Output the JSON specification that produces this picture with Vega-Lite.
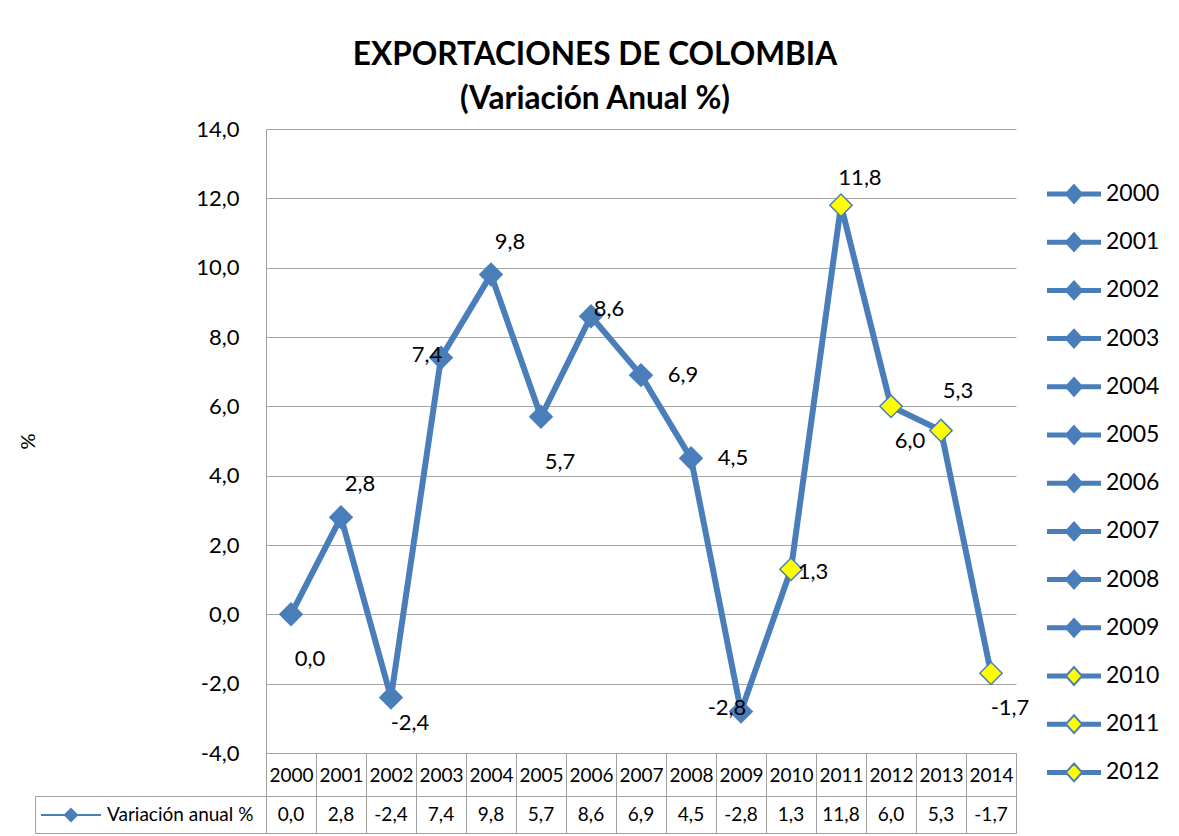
{
  "$schema": "https://vega.github.io/schema/vega-lite/v6.json",
  "background": "white",
  "autosize": {"type": "pad"},
  "padding": {"left": 18, "top": 40, "right": 0, "bottom": 0},
  "title": {
    "text": ["EXPORTACIONES DE COLOMBIA", "(Variación Anual %)"],
    "font": "Lato", "fontSize": 31.6, "fontWeight": "bold", "color": "black",
    "lineHeight": 44, "anchor": "middle", "frame": "bounds", "offset": 2, "dx": 6
  },
  "datasets": {
    "d": [
      {"year": "2000", "value": 0.0, "serie": "Variación anual %"},
      {"year": "2001", "value": 2.8, "serie": "Variación anual %"},
      {"year": "2002", "value": -2.4, "serie": "Variación anual %"},
      {"year": "2003", "value": 7.4, "serie": "Variación anual %"},
      {"year": "2004", "value": 9.8, "serie": "Variación anual %"},
      {"year": "2005", "value": 5.7, "serie": "Variación anual %"},
      {"year": "2006", "value": 8.6, "serie": "Variación anual %"},
      {"year": "2007", "value": 6.9, "serie": "Variación anual %"},
      {"year": "2008", "value": 4.5, "serie": "Variación anual %"},
      {"year": "2009", "value": -2.8, "serie": "Variación anual %"},
      {"year": "2010", "value": 1.3, "serie": "Variación anual %"},
      {"year": "2011", "value": 11.8, "serie": "Variación anual %"},
      {"year": "2012", "value": 6.0, "serie": "Variación anual %"},
      {"year": "2013", "value": 5.3, "serie": "Variación anual %"},
      {"year": "2014", "value": -1.7, "serie": "Variación anual %"}
    ]
  },
  "bounds": "flush",
  "spacing": 43,
  "resolve": {
    "scale": {"fill": "independent", "stroke": "independent"},
    "legend": {"fill": "independent", "stroke": "independent"}
  },
  "vconcat": [
    {
      "width": 750,
      "height": 624,
      "view": {"stroke": null},
      "data": {"name": "d"},
      "encoding": {
        "x": {
          "field": "year", "type": "ordinal", "bandPosition": 0.5,
          "scale": {"type": "band", "paddingInner": 0, "paddingOuter": 0},
          "axis": {
            "title": null, "orient": "bottom", "labelAngle": 0,
            "labelFont": "Lato", "labelFontSize": 19, "labelColor": "black",
            "labelBaseline": "middle", "labelPadding": -21,
            "tickBand": "extent", "tickSize": 43, "tickColor": "#a0a0a0", "tickWidth": 1,
            "domainColor": "#a0a0a0", "grid": false
          }
        },
        "y": {
          "field": "value", "type": "quantitative",
          "scale": {"domain": [-4, 14], "nice": false, "zero": false},
          "axis": {
            "title": "%", "titleFont": "Lato", "titleFontSize": 20, "titleFontWeight": "normal",
            "titleColor": "black", "titlePadding": 0,
            "values": [-4, -2, 0, 2, 4, 6, 8, 10, 12, 14], "format": ".1f",
            "labelFont": "Lato", "labelFontSize": 22, "labelColor": "black", "labelPadding": 27,
            "ticks": false, "domainColor": "#a0a0a0", "grid": true, "gridColor": "#a6a6a6",
            "minExtent": 228, "maxExtent": 228
          }
        }
      },
      "layer": [
        {"mark": {"type": "line", "color": "#4a7ebb", "strokeWidth": 6}},
        {
          "mark": {"type": "point", "shape": "diamond", "filled": true, "size": 500, "strokeWidth": 1.5, "opacity": 1},
          "encoding": {
            "fill": {
              "field": "year", "type": "nominal",
              "scale": {
                "domain": ["2000","2001","2002","2003","2004","2005","2006","2007","2008","2009","2010","2011","2012","2013","2014"],
                "range": ["#4a7ebb","#4a7ebb","#4a7ebb","#4a7ebb","#4a7ebb","#4a7ebb","#4a7ebb","#4a7ebb","#4a7ebb","#4a7ebb","#ffff00","#ffff00","#ffff00","#ffff00","#ffff00"]
              },
              "legend": {
                "title": null,
                "values": ["2000","2001","2002","2003","2004","2005","2006","2007","2008","2009","2010","2011","2012"],
                "orient": "none", "legendX": 780, "legendY": 37, "padding": 0,
                "symbolType": "M-1,-0.056H-0.25M-1,0H-0.25M-1,0.056H-0.25M0.25,-0.056H1M0.25,0H1M0.25,0.056H1M0,-0.33L0.3,0L0,0.33L-0.3,0Z",
                "symbolSize": 2916, "symbolStrokeWidth": 2, "symbolStrokeColor": "#4a7ebb", "symbolOpacity": 1,
                "labelFont": "Lato", "labelFontSize": 23, "labelColor": "black", "labelOffset": 4,
                "rowPadding": 7.2
              }
            },
            "stroke": {
              "field": "year", "type": "nominal",
              "scale": {
                "domain": ["2000","2001","2002","2003","2004","2005","2006","2007","2008","2009","2010","2011","2012","2013","2014"],
                "range": ["#4a7ebb","#4a7ebb","#4a7ebb","#4a7ebb","#4a7ebb","#4a7ebb","#4a7ebb","#4a7ebb","#4a7ebb","#4a7ebb","#4a7ebb","#4a7ebb","#4a7ebb","#4a7ebb","#4a7ebb"]
              },
              "legend": {
                "title": null,
                "values": ["2000","2001","2002","2003","2004","2005","2006","2007","2008","2009","2010","2011","2012"],
                "orient": "none", "legendX": 780, "legendY": 37, "padding": 0,
                "symbolType": "M-1,-0.056H-0.25M-1,0H-0.25M-1,0.056H-0.25M0.25,-0.056H1M0.25,0H1M0.25,0.056H1M0,-0.33L0.3,0L0,0.33L-0.3,0Z",
                "symbolSize": 2916, "symbolStrokeWidth": 2, "symbolStrokeColor": "#4a7ebb", "symbolOpacity": 1,
                "labelFont": "Lato", "labelFontSize": 23, "labelColor": "black", "labelOffset": 4,
                "rowPadding": 7.2
              }
            }
          }
        },
        {
          "transform": [{"filter": {"field": "year", "oneOf": ["2001", "2004"]}}],
          "mark": {"type": "text", "font": "Lato", "fontSize": 22, "color": "black", "dx": 19, "dy": -33},
          "encoding": {"text": {"field": "value", "type": "quantitative", "format": ".1f"}}
        },
        {
          "transform": [{"filter": {"field": "year", "oneOf": ["2011"]}}],
          "mark": {"type": "text", "font": "Lato", "fontSize": 22, "color": "black", "dx": 19, "dy": -27},
          "encoding": {"text": {"field": "value", "type": "quantitative", "format": ".1f"}}
        },
        {
          "transform": [{"filter": {"field": "year", "oneOf": ["2013"]}}],
          "mark": {"type": "text", "font": "Lato", "fontSize": 22, "color": "black", "dx": 17, "dy": -40},
          "encoding": {"text": {"field": "value", "type": "quantitative", "format": ".1f"}}
        },
        {
          "transform": [{"filter": {"field": "year", "oneOf": ["2000", "2005"]}}],
          "mark": {"type": "text", "font": "Lato", "fontSize": 22, "color": "black", "dx": 19, "dy": 45},
          "encoding": {"text": {"field": "value", "type": "quantitative", "format": ".1f"}}
        },
        {
          "transform": [{"filter": {"field": "year", "oneOf": ["2012", "2014"]}}],
          "mark": {"type": "text", "font": "Lato", "fontSize": 22, "color": "black", "dx": 19, "dy": 35},
          "encoding": {"text": {"field": "value", "type": "quantitative", "format": ".1f"}}
        },
        {
          "transform": [{"filter": {"field": "year", "oneOf": ["2002"]}}],
          "mark": {"type": "text", "font": "Lato", "fontSize": 22, "color": "black", "dx": 19, "dy": 25},
          "encoding": {"text": {"field": "value", "type": "quantitative", "format": ".1f"}}
        },
        {
          "transform": [{"filter": {"field": "year", "oneOf": ["2003", "2009"]}}],
          "mark": {"type": "text", "font": "Lato", "fontSize": 22, "color": "black", "dx": -14, "dy": -3},
          "encoding": {"text": {"field": "value", "type": "quantitative", "format": ".1f"}}
        },
        {
          "transform": [{"filter": {"field": "year", "oneOf": ["2007", "2008"]}}],
          "mark": {"type": "text", "font": "Lato", "fontSize": 22, "color": "black", "dx": 42, "dy": 0},
          "encoding": {"text": {"field": "value", "type": "quantitative", "format": ".1f"}}
        },
        {
          "transform": [{"filter": {"field": "year", "oneOf": ["2006"]}}],
          "mark": {"type": "text", "font": "Lato", "fontSize": 22, "color": "black", "dx": 18, "dy": -7},
          "encoding": {"text": {"field": "value", "type": "quantitative", "format": ".1f"}}
        },
        {
          "transform": [{"filter": {"field": "year", "oneOf": ["2010"]}}],
          "mark": {"type": "text", "font": "Lato", "fontSize": 22, "color": "black", "dx": 22, "dy": 3},
          "encoding": {"text": {"field": "value", "type": "quantitative", "format": ".1f"}}
        }
      ]
    },
    {
      "width": 750,
      "height": 37,
      "view": {"stroke": "#a0a0a0"},
      "data": {"name": "d"},
      "encoding": {
        "x": {
          "field": "year", "type": "ordinal",
          "scale": {"type": "band", "paddingInner": 0, "paddingOuter": 0},
          "axis": {"title": null, "labels": false, "ticks": false, "domain": false, "grid": true, "tickBand": "extent", "gridColor": "#a0a0a0"}
        },
        "y": {
          "field": "serie", "type": "nominal",
          "scale": {"type": "band", "paddingInner": 0, "paddingOuter": 0},
          "axis": {"title": null, "labels": false, "domain": false, "ticks": true, "tickBand": "extent", "tickSize": 231, "tickColor": "#a0a0a0", "grid": false}
        }
      },
      "layer": [
        {
          "mark": {"type": "text", "font": "Lato", "fontSize": 19, "color": "black"},
          "encoding": {"text": {"field": "value", "type": "quantitative", "format": ".1f"}}
        },
        {
          "mark": {"type": "point", "opacity": 0, "filled": true, "shape": "diamond"},
          "encoding": {
            "y": {
              "field": "serie", "type": "nominal",
              "axis": {"title": null, "orient": "left", "labels": false, "ticks": false, "domain": true, "domainColor": "#a0a0a0", "offset": 231, "grid": false}
            },
            "fill": {
              "field": "serie", "type": "nominal",
              "scale": {"range": ["#4a7ebb"]},
              "legend": {
                "title": null, "orient": "none", "legendX": -226, "legendY": -12, "padding": 0,
                "symbolType": "M-1,0H-0.2M0.2,0H1M0,-0.2L0.2,0L0,0.2L-0.2,0Z",
                "symbolSize": 3600, "symbolStrokeColor": "#4a7ebb", "symbolStrokeWidth": 2, "symbolOpacity": 1,
                "labelFont": "Lato", "labelFontSize": 19, "labelColor": "black", "labelOffset": 5
              }
            }
          }
        }
      ],
      "resolve": {"axis": {"y": "independent"}}
    }
  ],
  "config": {
    "locale": {"number": {"decimal": ",", "thousands": ".", "grouping": [3], "currency": ["", " €"], "minus": "-"}},
    "font": "Lato",
    "view": {"stroke": null}
  }
}
